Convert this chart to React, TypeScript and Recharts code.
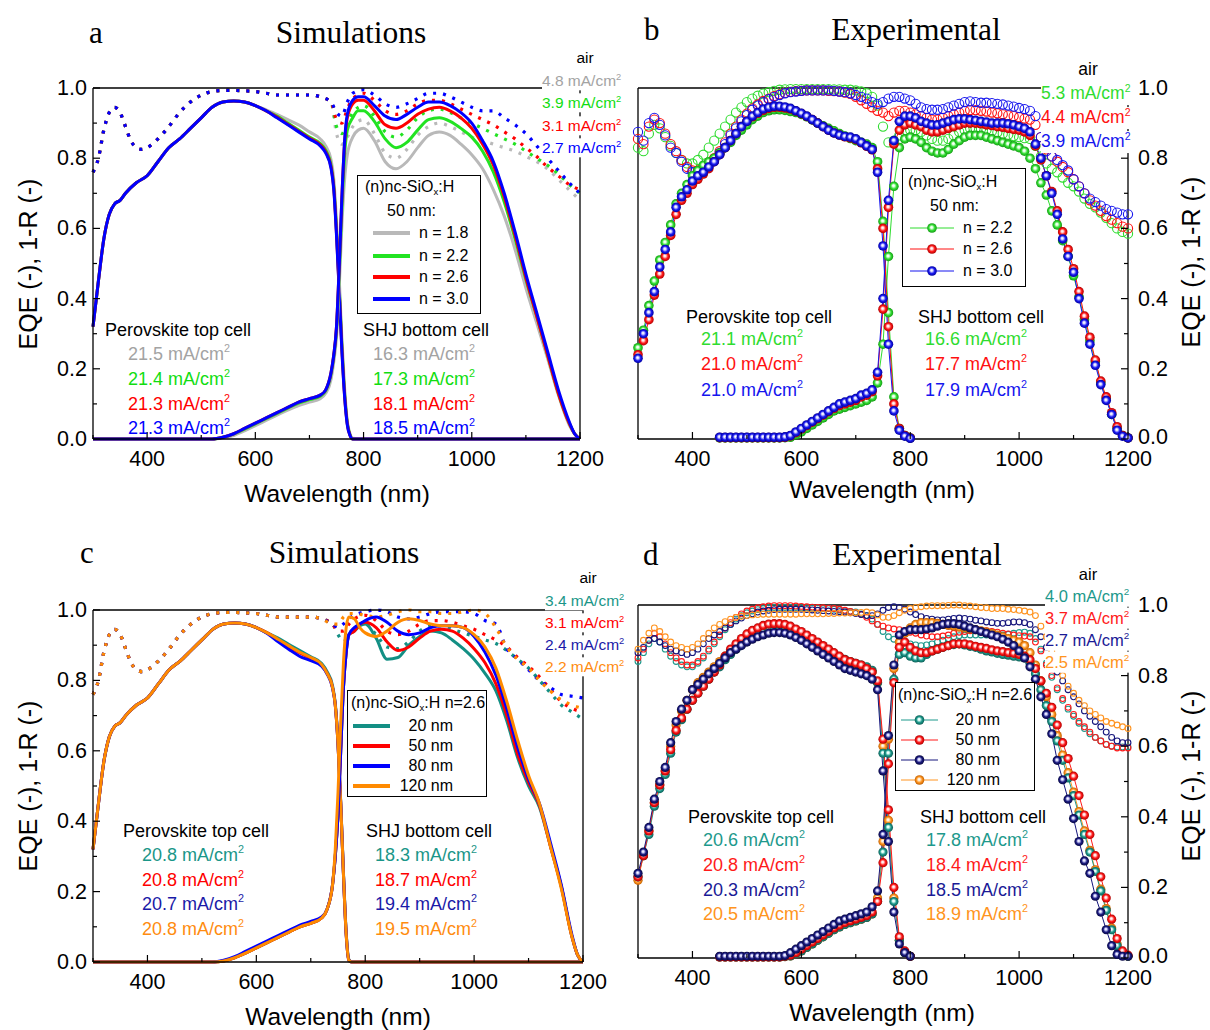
import { LineChart, Line, XAxis, YAxis } from 'recharts';

const SANS = '"Liberation Sans", Arial, Helvetica, sans-serif';
const SERIF = '"Liberation Serif", "Times New Roman", serif';

// ---- wavelength grids (nm) ----
const W10 = [
  300, 310, 320, 330, 340, 350, 360, 370, 380, 390, 400, 410, 420, 430, 440, 450, 460, 470, 480, 490,
  500, 510, 520, 530, 540, 550, 560, 570, 580, 590, 600, 610, 620, 630, 640, 650, 660, 670, 680, 690,
  700, 710, 720, 730, 740, 750, 760, 770, 780, 790, 800, 810, 820, 830, 840, 850, 860, 870, 880, 890,
  900, 910, 920, 930, 940, 950, 960, 970, 980, 990, 1000, 1010, 1020, 1030, 1040, 1050, 1060, 1070, 1080, 1090,
  1100, 1110, 1120, 1130, 1140, 1150, 1160, 1170, 1180, 1190, 1200,
];
const WL_EXP_TOP = W10.slice(0, 51); // 300-800
const WL_EXP_BOT = W10.slice(15); // 450-1200
const WL_SIM_TOP = [300, 310, 320, 330, 340, 350, 360, 380, 400, 420, 440, 460, 480, 500, 520, 540, 560, 580, 600, 620, 640, 660, 680, 700, 720, 730, 740, 745, 750, 755, 760, 765, 770, 775, 780, 800, 1200];
const WL_SIM_BOT = [300, 520, 540, 560, 580, 600, 620, 640, 660, 680, 700, 720, 730, 740, 745, 750, 755, 760, 765, 770, 780, 790, 800, 820, 840, 860, 880, 900, 920, 940, 960, 980, 1000, 1020, 1040, 1060, 1080, 1100, 1120, 1140, 1160, 1180, 1190, 1200];
const WL_SIM_R = [300, 310, 320, 330, 340, 350, 360, 370, 380, 390, 400, 420, 440, 460, 480, 500, 520, 540, 560, 580, 600, 620, 640, 660, 680, 700, 720, 740, 750, 760, 770, 780, 800, 820, 840, 860, 880, 900, 920, 940, 960, 980, 1000, 1020, 1040, 1060, 1080, 1100, 1120, 1140, 1160, 1180, 1200];

const X_TICKS = [300, 400, 500, 600, 700, 800, 900, 1000, 1100, 1200];
const Y_TICKS = [0, 10, 20, 30, 40, 50, 60, 70, 80, 90, 100];

// ---- panel a: simulations, n of (n)nc-SiOx:H (values in %) ----
const A_TOP_18 = [32, 45, 57, 64, 67, 68, 70, 73, 75, 79, 83, 85.5, 88.5, 91.5, 94.5, 96, 96.3, 96, 95, 93.8, 92.5, 91, 89.5, 87.5, 85.5, 83.5, 79.5, 74, 62, 46, 28.5, 14.5, 5, 1.5, 0.2, 0, 0];
const A_TOP_22 = [32, 45, 57, 64, 67, 68, 70, 73, 75, 79, 83, 85.5, 88.5, 91.5, 94.5, 96, 96.3, 96, 95, 93.5, 92, 90, 88, 86, 84.2, 82.3, 78, 72, 59.5, 43.5, 26.5, 13, 4.5, 1.2, 0, 0, 0];
const A_TOP_26 = [32, 45, 57, 64, 67, 68, 70, 73, 75, 79, 83, 85.5, 88.5, 91.5, 94.5, 96, 96.3, 96, 95, 93.5, 91.7, 89.7, 87.7, 85.7, 83.8, 81.8, 77.5, 71.5, 58.5, 42.5, 25.5, 12.3, 4.2, 1, 0, 0, 0];
const A_TOP_30 = [32, 45, 57, 64, 67, 68, 70, 73, 75, 79, 83, 85.5, 88.5, 91.5, 94.5, 96, 96.3, 96, 95, 93.5, 91.5, 89.5, 87.5, 85.5, 83.5, 81.5, 77, 71, 58, 42, 25, 12, 4, 1, 0, 0, 0];

const A_BOT_18 = [0, 0, 0.3, 1, 2.3, 3.8, 5.3, 6.8, 8.2, 9.5, 10.5, 11.5, 13, 17, 22, 29, 43, 61, 74, 81, 86, 88, 88.5, 85, 79, 77, 79, 83, 86.5, 87.5, 86.5, 84, 81, 77, 71, 63.5, 54, 43, 33, 23, 12.5, 4, 1.5, 0];
const A_BOT_22 = [0, 0, 0.5, 1.4, 2.8, 4.3, 5.8, 7.3, 8.8, 10.2, 11.2, 12.2, 13.7, 18.5, 23.5, 31, 47, 66, 81, 88, 91.5, 93.5, 93.5, 90.5, 85.5, 83, 84.5, 88, 91, 91.5, 90.5, 88.5, 86, 82, 76, 67.5, 57, 45.5, 35, 24, 13, 4.5, 1.5, 0];
const A_BOT_26 = [0, 0, 0.5, 1.5, 3, 4.5, 6, 7.5, 9, 10.5, 11.5, 12.5, 14, 19, 24, 32, 49, 69, 84.5, 91.5, 95.5, 96.5, 96.5, 93.5, 89.5, 88.5, 90, 92.5, 94, 94.5, 93.5, 91.5, 88.5, 84, 78, 69, 58, 46, 35, 24, 13, 4.5, 1.5, 0];
const A_BOT_30 = [0, 0, 0.5, 1.5, 3, 4.5, 6, 7.5, 9, 10.5, 11.5, 12.5, 14, 19, 24, 32, 49, 69, 85, 92.5, 96.5, 97.5, 97.5, 95, 92, 91, 92.5, 94.5, 96, 96, 95, 93, 90, 85, 79, 70, 59, 47, 36, 25, 14, 5, 1.5, 0];

const A_R_18 = [76, 80, 88, 93, 94.5, 93, 89, 85, 83, 82.5, 83, 85.5, 89, 93, 96, 98, 99, 99.3, 99.3, 99.2, 99, 98.5, 98, 98, 98, 98, 97.5, 96, 87, 84, 86, 89, 91, 87, 81.5, 80, 82.5, 86.5, 89, 90, 89, 87.5, 86, 85, 84, 83, 82, 80.5, 79, 77, 74, 71, 68];
const A_R_22 = [76, 80, 88, 93, 94.5, 93, 89, 85, 83, 82.5, 83, 85.5, 89, 93, 96, 98, 99, 99.3, 99.3, 99.2, 99, 98.5, 98, 98, 98, 98, 97.5, 96, 89, 87, 90, 93, 95, 92, 87.5, 86, 88, 91.5, 93.5, 94, 93, 91.5, 90, 88.5, 87, 85.5, 84, 82, 80, 78, 75.5, 72.5, 70];
const A_R_26 = [76, 80, 88, 93, 94.5, 93, 89, 85, 83, 82.5, 83, 85.5, 89, 93, 96, 98, 99, 99.3, 99.3, 99.2, 99, 98.5, 98, 98, 98, 98, 97.5, 96, 91, 90, 94, 97, 98.5, 96.5, 93.5, 92.5, 93.5, 95.5, 96.5, 96.5, 95.5, 94, 92.5, 91, 89.5, 87.5, 85.5, 83, 80.5, 77.5, 75, 72.5, 71];
const A_R_30 = [76, 80, 88, 93, 94.5, 93, 89, 85, 83, 82.5, 83, 85.5, 89, 93, 96, 98, 99, 99.3, 99.3, 99.2, 99, 98.5, 98, 98, 98, 98, 97.5, 96, 93, 92, 96, 98.5, 99.5, 98, 95.5, 94.5, 95.5, 97, 98.5, 98.5, 97.5, 96, 94.5, 93.5, 93.5, 91.5, 89.5, 87, 83.5, 80, 76.5, 73, 70];

const A_NAMES = ['n = 1.8', 'n = 2.2', 'n = 2.6', 'n = 3.0'];
const A_J_TOP = ['21.5', '21.4', '21.3', '21.3'];
const A_J_BOT = ['16.3', '17.3', '18.1', '18.5'];
const A_J_AIR = ['4.8', '3.9', '3.1', '2.7'];

// ---- panel b: experiment, n of (n)nc-SiOx:H ----
const B_TOP_22 = [26, 31, 38, 45, 51, 56, 61, 67, 70, 72.5, 75, 76.5, 78, 79, 80, 81.5, 83, 84.5, 86.5, 88, 89.5, 91, 92, 93, 93.5, 93.8, 93.8, 93.6, 93.3, 93, 92.5, 91.8, 90.9, 90, 89.2, 88.5, 87.8, 87, 86.3, 85.6, 85, 84.5, 84, 83, 79, 62, 36, 12, 3, 1, 0.3];
const B_TOP_26 = [24, 28, 34, 41, 47, 52, 58, 64, 68, 70, 72.5, 74, 75.5, 77, 79, 81, 83, 85, 87, 89, 90.5, 91.8, 92.8, 93.6, 94.2, 94.5, 94.5, 94.3, 94, 93.4, 92.7, 91.9, 91, 90, 89, 88, 87.2, 86.6, 86.1, 85.8, 85.3, 84.4, 83.4, 82.4, 77, 60, 32, 10, 3, 1, 0.3];
const B_TOP_30 = [23, 30, 36, 42, 49, 54, 59, 66, 69, 71, 73.5, 75, 76, 77.5, 79, 81, 83, 85, 87, 89, 90.5, 92, 93, 94, 94.5, 94.8, 94.8, 94.6, 94.2, 93.5, 92.8, 92, 91, 90, 89, 88, 87.2, 86.6, 86.2, 86, 85.5, 84.5, 83.5, 82.5, 76, 55, 27, 8, 2.5, 0.8, 0.2];

const B_BOT_22 = [0.3, 0.3, 0.3, 0.3, 0.3, 0.3, 0.3, 0.3, 0.3, 0.3, 0.3, 0.3, 0.4, 0.5, 1.2, 2, 3, 4, 5, 6, 7, 8, 8.5, 9, 9.5, 10, 10.5, 11, 12, 16, 27, 52, 72, 83, 85.5, 86, 85.5, 84.5, 83, 82, 81.5, 81.5, 82.5, 84, 85, 86, 86.5, 86.5, 86.5, 86, 85.5, 85, 84.5, 84, 83.5, 83, 82, 80, 77, 73, 69.5, 65, 61, 56.5, 52, 46.5, 40.5, 34, 28, 22, 16, 11.5, 7, 3, 1, 0.3];
const B_BOT_26 = [0.4, 0.4, 0.4, 0.4, 0.4, 0.4, 0.4, 0.4, 0.4, 0.4, 0.4, 0.4, 0.5, 0.9, 1.8, 2.8, 3.8, 4.8, 5.8, 6.8, 7.8, 8.7, 9.5, 10, 10.5, 11, 12, 12.5, 13.5, 18, 37, 66, 84, 88, 89.5, 90, 89.5, 89, 88, 87.5, 87.5, 88, 88.5, 89, 89.5, 90, 90, 90, 89.8, 89.5, 89.3, 89, 88.8, 88.5, 88.2, 88, 87.5, 86.5, 83.5, 79.5, 75, 70.5, 65, 59, 54, 48.5, 42, 35, 29, 22.5, 16.5, 12, 7.5, 3.5, 1, 0.3];
const B_BOT_30 = [0.5, 0.5, 0.5, 0.5, 0.5, 0.5, 0.5, 0.5, 0.5, 0.5, 0.5, 0.5, 0.6, 1, 2, 3, 4, 5, 6, 7, 8, 9, 10, 10.5, 11, 11.5, 12.5, 13, 14, 19, 40, 68, 85, 90.5, 92, 92, 91.5, 90.5, 90, 89.5, 89.5, 90, 90.5, 91, 91.2, 91.2, 91, 90.8, 90.5, 90.3, 90, 90, 90, 89.8, 89.5, 89, 88.5, 87.5, 84, 80, 75, 70, 64, 57, 52, 47.5, 40, 33, 27, 21, 15.5, 11, 7, 2.5, 0.8, 0.3];

const B_R_22 = [83, 82, 87, 89.5, 88.5, 86, 83.5, 81.5, 79.5, 78.5, 78.5, 79.5, 81, 83, 85, 87, 89, 91, 93, 94.5, 96, 97, 97.8, 98.4, 98.8, 99.2, 99.5, 99.6, 99.7, 99.7, 99.7, 99.7, 99.7, 99.7, 99.7, 99.7, 99.6, 99.6, 99.5, 99.5, 99.3, 99, 98.5, 97.5, 95, 89, 84.5, 85, 86.5, 87.5, 88, 88, 87.5, 86.5, 85.5, 85, 85, 85.5, 86.5, 87.5, 88, 88.5, 88.5, 88.3, 88, 87.7, 87.3, 87, 86.7, 86.3, 86, 85.7, 85.5, 83.5, 80.5, 78.5, 77, 76, 74.5, 73, 72, 70.5, 68.5, 67, 66, 64.5, 63, 61.5, 60, 59, 58.5];
const B_R_26 = [85.5, 84, 89, 91, 90, 87, 84, 82, 79.5, 77.5, 76.5, 76.5, 77, 78.5, 80, 82, 84.5, 87, 89, 91, 92.7, 94.2, 95.3, 96.3, 97, 97.7, 98.2, 98.6, 98.9, 99.1, 99.2, 99.3, 99.3, 99.3, 99.3, 99.2, 99.1, 99, 98.7, 98.3, 97.5, 96.5, 95.5, 94.5, 93.5, 93, 92, 93, 93.5, 93.5, 93, 92.5, 92, 91.5, 91, 91, 91.5, 92, 92.5, 93, 93.5, 93.7, 93.7, 93.5, 93.3, 93, 92.8, 92.5, 92.2, 92, 91.7, 91.3, 91, 89.5, 86, 82.5, 80.5, 79, 77.5, 76, 74, 72, 70, 68, 66.5, 65, 63.5, 62.5, 61.5, 60.5, 60];
const B_R_30 = [87.5, 85, 90, 91.5, 89.5, 86.5, 83, 81.5, 79, 77, 76, 76, 76.5, 78, 79.5, 81.5, 84, 86.5, 88.5, 90.5, 92.3, 93.8, 95, 96, 96.8, 97.5, 98, 98.5, 98.8, 99, 99.2, 99.3, 99.3, 99.3, 99.3, 99.3, 99.2, 99, 98.8, 98.5, 98, 97.5, 97, 96, 95.5, 96, 97, 97.5, 97.5, 97, 96.5, 95.5, 94.5, 94, 93.8, 93.8, 94, 94.5, 95, 95.5, 96, 96.2, 96, 95.8, 95.8, 95.7, 95.5, 95.3, 95, 94.7, 94.3, 94, 93.5, 92, 86, 82, 80.5, 79.5, 78, 76.5, 74, 72, 70, 68.5, 67.5, 66.5, 65.5, 65, 64.5, 64, 64];

const B_NAMES = ['n = 2.2', 'n = 2.6', 'n = 3.0'];
const B_J_TOP = ['21.1', '21.0', '21.0'];
const B_J_BOT = ['16.6', '17.7', '17.9'];
const B_J_AIR = ['5.3', '4.4', '3.9'];

// ---- panel c: simulations, thickness of (n)nc-SiOx:H n=2.6 ----
const C_TOP_20 = [32, 45, 57, 64, 67, 68, 70, 73, 75, 79, 83, 85.5, 88.5, 91.5, 94.5, 96, 96.3, 96, 95, 93.5, 92, 90.2, 88.5, 86.7, 84.8, 82.5, 78.5, 73.5, 62.5, 45.5, 25.5, 8.5, 0.7, 0, 0, 0, 0];
const C_TOP_50 = [32, 45, 57, 64, 67, 68, 70, 73, 75, 79, 83, 85.5, 88.5, 91.5, 94.5, 96, 96.3, 96, 95, 93.5, 91.5, 89.5, 87.8, 86.2, 84.3, 82, 78, 73, 62, 45, 25, 8, 0.5, 0, 0, 0, 0];
const C_TOP_80 = [32, 45, 57, 64, 67, 68, 70, 73, 75, 79, 83, 85.5, 88.5, 91.5, 94.5, 96, 96.3, 96, 95, 93.3, 91, 88.8, 86.8, 85.6, 84, 81.8, 77.8, 73, 62, 45, 25, 8, 0.5, 0, 0, 0, 0];
const C_TOP_120 = [32, 45, 57, 64, 67, 68, 70, 73, 75, 79, 83, 85.5, 88.5, 91.5, 94.5, 96, 96.3, 96, 95, 93.5, 91.7, 89.8, 88, 86.5, 84.5, 82, 78, 73, 62, 45, 25, 8, 0.5, 0, 0, 0, 0];

const C_BOT_20 = [0, 0, 0.3, 1.2, 2.5, 4, 5.5, 7, 8.5, 10, 11, 12.5, 15, 22, 30, 42, 60, 78, 88, 93, 94, 95.5, 96, 92, 86, 86.5, 90, 92.5, 94, 93.5, 91.5, 89, 86, 82, 77, 68.5, 58, 50, 44, 33, 21.5, 7, 2, 0];
const C_BOT_50 = [0, 0, 0.3, 1.2, 2.5, 4, 5.5, 7, 8.5, 10, 11, 12.5, 15, 22, 30, 42, 60, 78, 88, 93, 94, 96, 96.5, 95, 91, 88.5, 89.5, 92, 94, 94.5, 94, 92, 89, 85, 79, 70, 59, 51, 44.5, 33, 21.5, 7, 2, 0];
const C_BOT_80 = [0, 0, 0.5, 1.5, 3, 4.5, 6, 7.5, 9, 10.5, 11.5, 12.8, 15, 22, 30, 42, 60, 78, 88, 93, 95, 96, 97, 98, 96.5, 94, 93, 93.5, 95, 95.5, 95.5, 95, 92.5, 88, 81.5, 72, 61, 52, 45, 34, 22, 7.5, 2, 0];
const C_BOT_120 = [0, 0, 0.3, 1.2, 2.5, 4, 5.5, 7, 8.5, 10, 11, 12.5, 15, 22, 32, 48, 68, 85, 95, 98, 97.5, 95, 93.5, 92.5, 94, 96.5, 97.5, 97, 96, 95.5, 95.5, 95, 93, 89.5, 83.5, 74, 63, 53, 45, 33, 21, 7, 2, 0];

const C_R_20 = [76, 80, 88, 93, 94.5, 93, 89, 85, 83, 82.5, 83, 85.5, 89, 93, 96, 98, 99, 99.3, 99.3, 99.2, 99, 98.5, 98, 98, 98, 98, 97.5, 96, 93, 91, 93, 95, 96, 93, 89.5, 89, 91, 94, 95.5, 95.5, 94.5, 93.5, 92.5, 91.5, 90.5, 88.5, 86, 83.5, 80, 76.5, 73, 71, 69];
const C_R_50 = [76, 80, 88, 93, 94.5, 93, 89, 85, 83, 82.5, 83, 85.5, 89, 93, 96, 98, 99, 99.3, 99.3, 99.2, 99, 98.5, 98, 98, 98, 98, 97.5, 96, 94, 94, 96, 97.5, 98.5, 97, 94, 93, 94, 96, 97, 97, 96.5, 95.5, 94.5, 93, 91.5, 89.5, 86.5, 84, 81, 77.5, 74, 72, 71];
const C_R_80 = [76, 80, 88, 93, 94.5, 93, 89, 85, 83, 82.5, 83, 85.5, 89, 93, 96, 98, 99, 99.3, 99.3, 99.2, 99, 98.5, 98, 98, 98, 98, 97.5, 96, 95, 96, 97.5, 98.5, 99.5, 100, 99.5, 98, 97.5, 98, 99, 99.5, 99.5, 99.5, 99, 97, 96, 89, 86, 83, 80, 78, 76, 75.5, 75];
const C_R_120 = [76, 80, 88, 93, 94.5, 93, 89, 85, 83, 82.5, 83, 85.5, 89, 93, 96, 98, 99, 99.3, 99.3, 99.2, 99, 98.5, 98, 98, 98, 98, 97.5, 96, 96, 98, 99, 99, 98.5, 98, 98.5, 99.5, 100, 99.5, 99.5, 99, 99, 99.5, 100, 99, 95, 89.5, 86, 83.5, 80, 77, 74.5, 73, 72];

const CD_NAMES = ['20 nm', '50 nm', '80 nm', '120 nm'];
const C_J_TOP = ['20.8', '20.8', '20.7', '20.8'];
const C_J_BOT = ['18.3', '18.7', '19.4', '19.5'];
const C_J_AIR = ['3.4', '3.1', '2.4', '2.2'];

// ---- panel d: experiment, thickness of (n)nc-SiOx:H n=2.6 ----
const D_TOP_20 = [23, 29, 35, 43, 48, 52, 58, 64, 67.5, 70.5, 73, 75, 77, 79, 81, 82.5, 84.5, 86, 87.5, 89, 90, 91, 92, 92.5, 92.8, 93, 93, 92.8, 92.3, 91.8, 91, 90.2, 89.3, 88.5, 87.5, 86.7, 86, 85.3, 84.6, 84, 83.5, 83, 82.5, 81.5, 78, 58, 37, 16, 5, 1.5, 0.5];
const D_TOP_50 = [23, 29, 36, 44, 49, 53, 59, 64.5, 68, 70.5, 73, 75, 77, 79, 81, 83, 85.5, 87.5, 89, 90.5, 91.8, 92.8, 93.5, 94.2, 94.6, 94.7, 94.7, 94.5, 94, 93.2, 92.5, 91.5, 90.5, 89.5, 88.5, 87.5, 86.5, 85.5, 84.5, 84, 83.5, 83, 82, 81, 78.5, 62, 42, 20, 6, 2, 0.5];
const D_TOP_80 = [24, 30, 37, 45, 50, 54, 61, 67, 70.5, 73, 76, 77.5, 79, 80.5, 82, 83.5, 85, 86.5, 87.5, 88.5, 89.5, 90.3, 91, 91.5, 92, 92.2, 92.2, 92, 91.5, 90.8, 90, 89, 88, 87, 86, 85, 84, 83, 82, 81.5, 81, 80.5, 80, 79, 76, 53, 33, 13, 4, 1.5, 0.5];
const D_TOP_120 = [22, 29, 36, 44, 49, 53, 60, 66, 70, 73, 76, 78, 79.5, 81, 82.5, 84, 85.5, 87, 88.2, 89.3, 90.3, 91, 91.8, 92.3, 92.7, 93, 93, 92.8, 92.4, 91.8, 91, 90.2, 89.3, 88.5, 87.5, 86.7, 85.8, 85, 84.2, 83.5, 83, 82.5, 82, 81, 78, 60, 39, 17, 5, 1.5, 0.5];

const D_BOT_20 = [0.3, 0.3, 0.3, 0.3, 0.3, 0.3, 0.3, 0.3, 0.3, 0.3, 0.3, 0.3, 0.4, 0.6, 1.2, 2, 3, 4, 5, 6, 7, 8, 8.8, 9.5, 10, 10.5, 11, 11.5, 12.5, 16, 30, 58, 79, 86, 86.5, 85.5, 85, 85, 86, 87, 87.5, 88, 88.5, 88.8, 89, 88.7, 88.3, 88, 87.5, 87, 86.7, 86.3, 86, 85.8, 85.5, 85.3, 85, 83.5, 80.5, 76, 71.5, 67, 61.5, 56, 51, 46, 40.5, 35, 30, 24.5, 19, 13.5, 8, 3.5, 1.2, 0.5];
const D_BOT_50 = [0.3, 0.3, 0.3, 0.3, 0.3, 0.3, 0.3, 0.3, 0.3, 0.3, 0.3, 0.3, 0.5, 0.8, 1.5, 2.5, 3.5, 4.5, 5.5, 6.5, 7.5, 8.5, 9.3, 10, 10.5, 11, 11.5, 12, 13, 16, 27, 55, 78, 88, 89.5, 88, 87, 86.5, 86.5, 87, 87.5, 88, 88.5, 89, 89, 89, 88.7, 88.3, 88, 87.7, 87.3, 87, 86.8, 86.5, 86.3, 86, 85.5, 84.5, 82, 78.5, 75, 71, 66, 61, 56.5, 51.5, 46, 40.5, 35, 29, 23, 17, 11, 5.5, 2, 0.8];
const D_BOT_80 = [0.5, 0.5, 0.5, 0.5, 0.5, 0.5, 0.5, 0.5, 0.5, 0.5, 0.5, 0.5, 0.7, 1.5, 2.5, 3.5, 4.5, 5.5, 6.5, 7.5, 8.5, 9.5, 10.5, 11, 11.5, 12, 12.5, 13, 14.5, 19, 35, 63, 83, 91.5, 92.5, 93, 93, 93, 93.2, 93.5, 94, 94.5, 94.7, 94.7, 94.5, 94, 93.5, 93, 92.5, 92, 91.5, 91, 90.3, 89.5, 88.5, 87, 85, 82.5, 79, 74, 69, 63.5, 56, 50.5, 45, 39.5, 33, 27.5, 24, 17.5, 13, 8, 3.5, 1, 0.5, 0.5];
const D_BOT_120 = [0.3, 0.3, 0.3, 0.3, 0.3, 0.3, 0.3, 0.3, 0.3, 0.3, 0.3, 0.3, 0.4, 0.6, 1.2, 2, 3, 4, 5, 6, 7, 8, 8.8, 9.5, 10, 10.5, 11, 11.5, 12.5, 17, 33, 62, 82, 89.5, 92, 93.5, 94.5, 95, 95, 95, 94.8, 94.5, 94.2, 94, 93.7, 93.5, 93.2, 93, 92.7, 92.3, 92, 91.5, 91, 90.5, 90, 89.5, 88.5, 86.5, 83, 78.5, 74, 69, 63, 57.5, 52.5, 47, 41.5, 36, 30.5, 25, 19.5, 14, 8.5, 4, 1.5, 0.5];

const D_R_20 = [84, 86.5, 89, 90.5, 89.5, 87.5, 85.5, 84, 83, 82.5, 82.5, 83.5, 85, 87, 89, 91, 93, 94.5, 96, 97, 97.8, 98.3, 98.7, 99, 99.2, 99.3, 99.3, 99.3, 99.3, 99.3, 99.2, 99.2, 99.1, 99.1, 99, 99, 98.8, 98.6, 98.4, 98.2, 98, 97.5, 97, 96, 94.5, 92.5, 91, 90.3, 90, 89.5, 89, 88.7, 88.5, 88.7, 89, 89.5, 90, 90.5, 91, 91.3, 91.5, 91.5, 91.5, 91.5, 91.5, 91.5, 91.5, 91.5, 91.7, 92, 92.2, 92.3, 92, 90.5, 87.5, 83.5, 79.5, 76, 73, 70.5, 68.5, 66.5, 65, 63.5, 62.5, 61.5, 60.5, 60, 59.8, 59.8, 59.8];
const D_R_50 = [85, 87.5, 90, 92, 91, 89, 86.5, 85, 84, 83, 83, 84, 85.5, 87.5, 89.5, 91.5, 93.5, 95, 96.5, 97.5, 98.3, 98.8, 99.2, 99.5, 99.7, 99.8, 99.8, 99.8, 99.8, 99.7, 99.6, 99.5, 99.4, 99.3, 99.2, 99.1, 99, 98.8, 98.5, 98.2, 97.8, 97.3, 96.5, 95.5, 94.5, 94, 93.5, 93.2, 93, 92.7, 92.3, 92, 91.5, 91.2, 91, 91, 91.2, 91.5, 92, 92.3, 92.5, 92.7, 92.8, 92.8, 92.7, 92.5, 92.3, 92, 91.8, 91.5, 91.3, 91.2, 91, 89.5, 87, 83, 80, 76.5, 73.5, 71, 69, 67, 65.5, 64, 62.5, 61.5, 60.5, 60, 59.5, 59.5, 59.5];
const D_R_80 = [86.5, 88, 90, 90.5, 89.5, 88.5, 87.5, 87, 86.5, 86, 86.5, 87.5, 89, 90.5, 91.5, 92.5, 93.5, 94.5, 95.5, 96.3, 97, 97.5, 98, 98.3, 98.5, 98.7, 98.8, 98.8, 98.8, 98.8, 98.8, 98.7, 98.6, 98.5, 98.4, 98.3, 98.2, 98.1, 98, 97.8, 97.6, 97.3, 97, 97, 97.5, 98.5, 99.3, 99.5, 99.3, 98.8, 98, 97.3, 96.7, 96.2, 96, 95.8, 95.8, 96, 96.2, 96.3, 96.2, 96, 95.7, 95.5, 95.2, 95, 94.8, 94.8, 95, 95.2, 95.2, 95, 94.5, 93, 91, 88, 84.5, 81, 78.5, 76, 74, 72, 70, 68.5, 67, 65.5, 64, 62.5, 61.5, 61, 61];
const D_R_120 = [87.5, 90, 92, 93.5, 92.5, 91, 89.5, 88.5, 88, 87.5, 88, 89, 90.5, 92, 93.5, 94.5, 95.3, 96, 96.5, 96.8, 97, 97.2, 97.3, 97.4, 97.4, 97.4, 97.4, 97.4, 97.4, 97.4, 97.5, 97.5, 97.5, 97.5, 97.5, 97.6, 97.6, 97.7, 97.7, 97.8, 97.8, 97.9, 98, 97.8, 97.2, 96.5, 96.5, 97, 97.8, 98.5, 99, 99.3, 99.5, 99.7, 99.8, 99.8, 99.8, 99.9, 100, 100, 99.8, 99.7, 99.5, 99.3, 99.2, 99, 99, 99, 98.8, 98.7, 98.5, 98.3, 98, 97, 94, 91, 87, 83, 80, 77, 75, 73, 71.5, 70, 69, 68, 67, 66.5, 66, 65.5, 65];

const D_J_TOP = ['20.6', '20.8', '20.3', '20.5'];
const D_J_BOT = ['17.8', '18.4', '18.5', '18.9'];
const D_J_AIR = ['4.0', '3.7', '2.7', '2.5'];

// ---- colours ----
const A_COL = ['#b9b9b9', '#22e322', '#ff0000', '#0000ff'];
const A_TXT = ['#a3a3a3', '#11dd11', '#ff0000', '#0000ff'];
const B_COL = ['#2fdc2f', '#ff1010', '#1515ee'];
const C_COL = ['#138f84', '#ff0000', '#0000ff', '#ff8a00'];
const C_TXT = ['#1a9688', '#ff0000', '#1a1aa8', '#ff8c10'];
const D_COL = ['#1d998c', '#ff1a1a', '#16167c', '#ff9420'];
const D_TXT = ['#1d998c', '#ff1a1a', '#1a1a96', '#ff9420'];

// ball gradients: id, highlight, body, rim
const BALLS: [string, string, string, string][] = [
  ['bG', '#e8ffe8', '#33dd33', '#139a13'],
  ['bR', '#ffe0e0', '#ff1a1a', '#b00000'],
  ['bB', '#e0e0ff', '#1a1af0', '#0000a0'],
  ['bT', '#e0fff8', '#1d998c', '#0c5f56'],
  ['bN', '#d8d8ff', '#1a1a80', '#070740'],
  ['bO', '#fff0d8', '#ff9420', '#c06000'],
];

type Kind = 'solid' | 'dot' | 'ball' | 'ring';
type S = { wl: number[]; v: number[]; color: string; kind: Kind; grad?: string; r?: number };
type Box = { l: number; t: number; r: number; b: number };

const pts = (wl: number[], v: number[]) => v.map((y, i) => ({ x: wl[i], y }));

const xTick = (dir: number, labels: boolean) => (p: any) => {
  const v = p.payload.value;
  const major = v % 200 === 0;
  const len = major ? 7 : 4;
  return (
    <g>
      <line x1={p.x} x2={p.x} y1={p.y} y2={p.y + dir * len} stroke="#000" strokeWidth={1.2} />
      {labels && major && (
        <text x={p.x} y={p.y + 20} textAnchor="middle" dominantBaseline="central" fontSize={21.5} fontFamily={SANS} fill="#000">
          {v}
        </text>
      )}
    </g>
  );
};

const yTick = (dir: number, label: 'left' | 'right' | null) => (p: any) => {
  const v = p.payload.value;
  const major = v % 20 === 0;
  const len = major ? 7 : 4;
  return (
    <g>
      <line x1={p.x} x2={p.x + dir * len} y1={p.y} y2={p.y} stroke="#000" strokeWidth={1.2} />
      {label && major && (
        <text
          x={label === 'left' ? p.x - 6 : p.x + 10}
          y={label === 'right' && v === 0 ? p.y - 2 : p.y}
          textAnchor={label === 'left' ? 'end' : 'start'}
          dominantBaseline="central"
          fontSize={21.5}
          fontFamily={SANS}
          fill="#000"
        >
          {(v / 100).toFixed(1)}
        </text>
      )}
    </g>
  );
};

const AX = { stroke: '#000', strokeWidth: 1.3 };

// axes are given a 1px thickness (Recharts skips axes of size 0); margins compensate.
// The labelled y axis is the primary one (the series are bound to it).
function Panel({ ox, oy, w, h, box, side, series }: { ox: number; oy: number; w: number; h: number; box: Box; side: 'left' | 'right'; series: S[] }) {
  const other = side === 'left' ? 'right' : 'left';
  return (
    <div style={{ position: 'absolute', left: ox, top: oy }}>
      <LineChart width={w} height={h} margin={{ top: box.t - oy - 1, left: box.l - ox - 1, right: ox + w - box.r - 1, bottom: oy + h - box.b - 1 }}>
        <defs>
          {BALLS.map(([id, hi, c, rim]) => (
            <radialGradient key={id} id={id} cx="0.5" cy="0.5" r="0.5" fx="0.45" fy="0.42">
              <stop offset="0" stopColor="#ffffff" />
              <stop offset="0.22" stopColor={hi} />
              <stop offset="0.6" stopColor={c} />
              <stop offset="1" stopColor={rim} />
            </radialGradient>
          ))}
        </defs>
        <XAxis dataKey="x" type="number" domain={[300, 1200]} ticks={X_TICKS} interval={0} height={1} tickSize={0} tickMargin={0} tickLine={false} axisLine={AX} tick={xTick(-1, true)} />
        <XAxis xAxisId="top" orientation="top" dataKey="x" type="number" domain={[300, 1200]} ticks={X_TICKS} interval={0} height={1} tickSize={0} tickMargin={0} tickLine={false} axisLine={AX} tick={xTick(1, false)} />
        <YAxis orientation={side} type="number" domain={[0, 100]} ticks={Y_TICKS} interval={0} width={1} tickSize={0} tickMargin={0} tickLine={false} axisLine={AX} tick={yTick(side === 'left' ? 1 : -1, side)} />
        <YAxis yAxisId="other" orientation={other} type="number" domain={[0, 100]} ticks={Y_TICKS} interval={0} width={1} tickSize={0} tickMargin={0} tickLine={false} axisLine={AX} tick={yTick(other === 'left' ? 1 : -1, null)} />
        {series.map((s, i) => {
          const data = pts(s.wl, s.v);
          if (s.kind === 'solid' || s.kind === 'dot')
            return (
              <Line
                key={i}
                data={data}
                dataKey="y"
                type="monotone"
                stroke={s.color}
                strokeWidth={s.kind === 'solid' ? 3 : 3.2}
                strokeDasharray={s.kind === 'dot' ? '3 7' : undefined}
                dot={false}
                activeDot={false}
                isAnimationActive={false}
              />
            );
          if (s.kind === 'ring')
            return (
              <Line
                key={i}
                data={data}
                dataKey="y"
                type="linear"
                stroke="none"
                dot={(p: any) => <circle key={p.index} cx={p.cx} cy={p.cy} r={s.r} fill="none" stroke={s.color} strokeWidth={1.1} />}
                activeDot={false}
                isAnimationActive={false}
              />
            );
          return (
            <Line
              key={i}
              data={data}
              dataKey="y"
              type="linear"
              stroke={s.color}
              strokeWidth={1}
              dot={(p: any) => <circle key={p.index} cx={p.cx} cy={p.cy} r={s.r} fill={`url(#${s.grad})`} />}
              activeDot={false}
              isAnimationActive={false}
            />
          );
        })}
      </LineChart>
    </div>
  );
}

function Sup({ children }: { children: any }) {
  return <span style={{ fontSize: '0.6em', verticalAlign: '0.7em', lineHeight: 0 }}>{children}</span>;
}
function Sub({ children }: { children: any }) {
  return <span style={{ fontSize: '0.6em', verticalAlign: '-0.35em', lineHeight: 0 }}>{children}</span>;
}
const mA = (v: string) => (
  <>
    {v} mA/cm<Sup>2</Sup>
  </>
);

function T({ x, y, size = 18, color = '#000', anchor = 'start', bg, family = SANS, children }: any) {
  const tx = anchor === 'middle' ? '-50%' : anchor === 'end' ? '-100%' : '0';
  return (
    <div
      style={{
        position: 'absolute',
        left: x,
        top: y,
        transform: `translate(${tx}, -50%)`,
        fontSize: size,
        color,
        fontFamily: family,
        whiteSpace: 'nowrap',
        lineHeight: 1.25,
        background: bg,
        paddingRight: bg ? 2 : 0,
      }}
    >
      {children}
    </div>
  );
}

function VLabel({ x, y }: { x: number; y: number }) {
  return (
    <div style={{ position: 'absolute', left: x, top: y, transform: 'translate(-50%, -50%) rotate(-90deg)', fontSize: 25, fontFamily: SANS, whiteSpace: 'nowrap' }}>
      EQE (-), 1-R (-)
    </div>
  );
}

function Annot({ hx, vx, hy, ys, top, bottom, colors }: { hx: [number, number]; vx: [number, number]; hy: number; ys: number[]; top: string[]; bottom: string[]; colors: string[] }) {
  return (
    <>
      <T x={hx[0]} y={hy}>Perovskite top cell</T>
      <T x={hx[1]} y={hy}>SHJ bottom cell</T>
      {top.map((v, i) => (
        <T key={'t' + i} x={vx[0]} y={ys[i]} color={colors[i]}>{mA(v)}</T>
      ))}
      {bottom.map((v, i) => (
        <T key={'b' + i} x={vx[1]} y={ys[i]} color={colors[i]}>{mA(v)}</T>
      ))}
    </>
  );
}

function Air({ cx, cy, x, ys, vals, colors, size }: { cx: number; cy: number; x: number; ys: number[]; vals: string[]; colors: string[]; size: number }) {
  return (
    <>
      <T x={cx} y={cy} size={size} anchor="middle">air</T>
      {vals.map((v, i) => (
        <T key={i} x={x} y={ys[i]} size={size} color={colors[i]} bg="#fff">{mA(v)}</T>
      ))}
    </>
  );
}

function Box({ l, t, w, h }: { l: number; t: number; w: number; h: number }) {
  return <div style={{ position: 'absolute', left: l, top: t, width: w, height: h, border: '1.2px solid #000', background: '#fff', boxSizing: 'border-box' }} />;
}

function LineSample({ x1, x2, y, color }: { x1: number; x2: number; y: number; color: string }) {
  return <div style={{ position: 'absolute', left: x1, top: y - 2, width: x2 - x1, height: 4, background: color }} />;
}

function BallSample({ x1, x2, y, color, grad }: { x1: number; x2: number; y: number; color: string; grad: string }) {
  return (
    <svg style={{ position: 'absolute', left: x1, top: y - 6 }} width={x2 - x1} height={12}>
      <line x1={0} x2={x2 - x1} y1={6} y2={6} stroke={color} strokeWidth={1} />
      <circle cx={(x2 - x1) / 2} cy={6} r={4.8} fill={`url(#${grad})`} />
    </svg>
  );
}

const BOX_A = { l: 93, t: 88, r: 580, b: 439 };
const BOX_B = { l: 638, t: 88, r: 1128, b: 439 };
const BOX_C = { l: 93, t: 610, r: 583, b: 962 };
const BOX_D = { l: 638, t: 605, r: 1128, b: 958 };

export default function App() {
  const aSeries: S[] = [
    ...[A_R_18, A_R_22, A_R_26, A_R_30].map((v, i) => ({ wl: WL_SIM_R, v, color: A_COL[i], kind: 'dot' as Kind })),
    ...[A_TOP_18, A_TOP_22, A_TOP_26, A_TOP_30].map((v, i) => ({ wl: WL_SIM_TOP, v, color: A_COL[i], kind: 'solid' as Kind })),
    ...[A_BOT_18, A_BOT_22, A_BOT_26, A_BOT_30].map((v, i) => ({ wl: WL_SIM_BOT, v, color: A_COL[i], kind: 'solid' as Kind })),
  ];
  const bGrad = ['bG', 'bR', 'bB'];
  const bSeries: S[] = [
    ...[B_R_22, B_R_26, B_R_30].map((v, i) => ({ wl: W10, v, color: B_COL[i], kind: 'ring' as Kind, r: 4.6 })),
    ...[0, 1, 2].flatMap((i) => [
      { wl: WL_EXP_TOP, v: [B_TOP_22, B_TOP_26, B_TOP_30][i], color: B_COL[i], kind: 'ball' as Kind, grad: bGrad[i], r: 4.8 },
      { wl: WL_EXP_BOT, v: [B_BOT_22, B_BOT_26, B_BOT_30][i], color: B_COL[i], kind: 'ball' as Kind, grad: bGrad[i], r: 4.8 },
    ]),
  ];
  const cSeries: S[] = [
    ...[C_R_20, C_R_50, C_R_80, C_R_120].map((v, i) => ({ wl: WL_SIM_R, v, color: C_COL[i], kind: 'dot' as Kind })),
    ...[C_TOP_20, C_TOP_50, C_TOP_80, C_TOP_120].map((v, i) => ({ wl: WL_SIM_TOP, v, color: C_COL[i], kind: 'solid' as Kind })),
    ...[C_BOT_20, C_BOT_50, C_BOT_80, C_BOT_120].map((v, i) => ({ wl: WL_SIM_BOT, v, color: C_COL[i], kind: 'solid' as Kind })),
  ];
  const dGrad = ['bT', 'bR', 'bN', 'bO'];
  const dTop = [D_TOP_20, D_TOP_50, D_TOP_80, D_TOP_120];
  const dBot = [D_BOT_20, D_BOT_50, D_BOT_80, D_BOT_120];
  const dSeries: S[] = [
    ...[D_R_20, D_R_50, D_R_80, D_R_120].map((v, i) => ({ wl: W10, v, color: D_COL[i], kind: 'ring' as Kind, r: 2.9 })),
    ...[3, 0, 1, 2].flatMap((i) => [
      { wl: WL_EXP_TOP, v: dTop[i], color: D_COL[i], kind: 'ball' as Kind, grad: dGrad[i], r: 4.6 },
      { wl: WL_EXP_BOT, v: dBot[i], color: D_COL[i], kind: 'ball' as Kind, grad: dGrad[i], r: 4.6 },
    ]),
  ];

  return (
    <div style={{ position: 'absolute', left: 0, top: 0, width: 1210, height: 1030, background: '#fff', overflow: 'hidden' }}>
      <Panel ox={0} oy={50} w={620} h={440} box={BOX_A} side="left" series={aSeries} />
      <Panel ox={620} oy={50} w={590} h={440} box={BOX_B} side="right" series={bSeries} />
      <Panel ox={0} oy={570} w={620} h={430} box={BOX_C} side="left" series={cSeries} />
      <Panel ox={620} oy={570} w={590} h={430} box={BOX_D} side="right" series={dSeries} />

      {/* titles */}
      <T x={89} y={33} size={31} family={SERIF}>a</T>
      <T x={351} y={33} size={31.5} family={SERIF} anchor="middle">Simulations</T>
      <T x={644} y={30} size={31} family={SERIF}>b</T>
      <T x={916} y={30} size={31.5} family={SERIF} anchor="middle">Experimental</T>
      <T x={80} y={553} size={31} family={SERIF}>c</T>
      <T x={344} y={553} size={31.5} family={SERIF} anchor="middle">Simulations</T>
      <T x={643} y={555} size={31} family={SERIF}>d</T>
      <T x={917} y={555} size={31.5} family={SERIF} anchor="middle">Experimental</T>

      {/* axis titles */}
      <T x={337} y={494} size={24.5} anchor="middle">Wavelength (nm)</T>
      <T x={882} y={490} size={24.5} anchor="middle">Wavelength (nm)</T>
      <T x={338} y={1017} size={24.5} anchor="middle">Wavelength (nm)</T>
      <T x={882} y={1013} size={24.5} anchor="middle">Wavelength (nm)</T>
      <VLabel x={28} y={264} />
      <VLabel x={1191} y={262} />
      <VLabel x={28} y={786} />
      <VLabel x={1191} y={776} />

      {/* air (1-R) current labels */}
      <Air cx={585} cy={58} x={542} ys={[81, 103, 126, 148]} vals={A_J_AIR} colors={A_TXT} size={15.5} />
      <Air cx={1088} cy={70} x={1041} ys={[94, 118, 142]} vals={B_J_AIR} colors={B_COL} size={17.5} />
      <Air cx={588} cy={578} x={545} ys={[601, 623, 645, 667]} vals={C_J_AIR} colors={C_TXT} size={15.5} />
      <Air cx={1088} cy={574} x={1045} ys={[596, 618, 640, 662]} vals={D_J_AIR} colors={D_TXT} size={16.5} />

      {/* current density annotations */}
      <Annot hx={[105, 363]} vx={[128, 373]} hy={330} ys={[354, 379, 404, 428]} top={A_J_TOP} bottom={A_J_BOT} colors={A_TXT} />
      <Annot hx={[686, 918]} vx={[701, 925]} hy={317} ys={[339, 364, 390]} top={B_J_TOP} bottom={B_J_BOT} colors={B_COL} />
      <Annot hx={[123, 366]} vx={[142, 375]} hy={831} ys={[855, 880, 904, 929]} top={C_J_TOP} bottom={C_J_BOT} colors={C_TXT} />
      <Annot hx={[688, 920]} vx={[703, 926]} hy={817} ys={[840, 865, 890, 914]} top={D_J_TOP} bottom={D_J_BOT} colors={D_TXT} />

      {/* legend a */}
      <Box l={357} t={175} w={124} h={139} />
      <T x={365} y={187} size={16}>(n)nc-SiO<Sub>x</Sub>:H</T>
      <T x={387} y={211} size={16}>50 nm:</T>
      {A_NAMES.map((n, i) => (
        <div key={'la' + i}>
          <LineSample x1={373} x2={410} y={[233, 256, 277, 299][i]} color={A_COL[i]} />
          <T x={419} y={[233, 256, 277, 299][i]} size={16}>{n}</T>
        </div>
      ))}

      {/* legend b */}
      <Box l={902} t={168} w={124} h={119} />
      <T x={908} y={182} size={16}>(n)nc-SiO<Sub>x</Sub>:H</T>
      <T x={930} y={206} size={16}>50 nm:</T>
      {B_NAMES.map((n, i) => (
        <div key={'lb' + i}>
          <BallSample x1={910} x2={954} y={[228, 249, 271][i]} color={B_COL[i]} grad={bGrad[i]} />
          <T x={963} y={[228, 249, 271][i]} size={16}>{n}</T>
        </div>
      ))}

      {/* legend c */}
      <Box l={347} t={690} w={140} h={107} />
      <T x={351} y={703} size={16}>(n)nc-SiO<Sub>x</Sub>:H n=2.6</T>
      {CD_NAMES.map((n, i) => (
        <div key={'lc' + i}>
          <LineSample x1={353} x2={390} y={[726, 746, 766, 786][i]} color={C_COL[i]} />
          <T x={453} y={[726, 746, 766, 786][i]} size={16} anchor="end">{n}</T>
        </div>
      ))}

      {/* legend d */}
      <Box l={895} t={682} w={140} h={109} />
      <T x={898} y={695} size={16}>(n)nc-SiO<Sub>x</Sub>:H n=2.6</T>
      {CD_NAMES.map((n, i) => (
        <div key={'ld' + i}>
          <BallSample x1={901} x2={938} y={[720, 740, 760, 780][i]} color={D_COL[i]} grad={dGrad[i]} />
          <T x={1000} y={[720, 740, 760, 780][i]} size={16} anchor="end">{n}</T>
        </div>
      ))}
    </div>
  );
}
